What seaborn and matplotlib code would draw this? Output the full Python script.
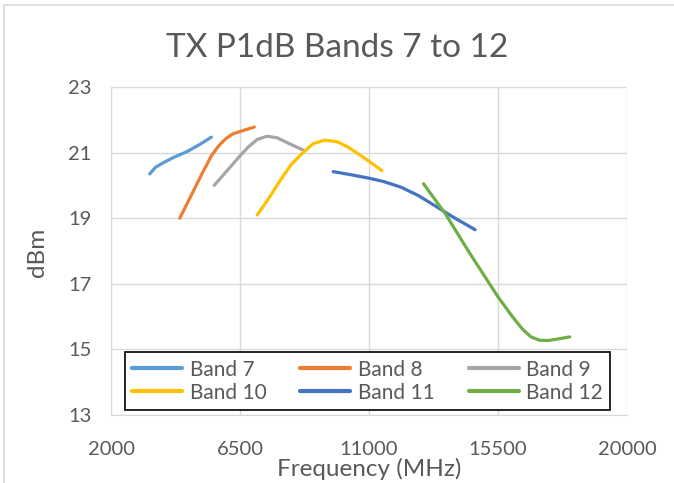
import pandas as pd
import matplotlib
matplotlib.use("Agg")
import matplotlib.pyplot as plt
import seaborn as sns
from matplotlib.patches import Rectangle

# values
band7_freq = [3350, 3550, 3800, 4200, 4650, 5100, 5500]
band7_dbm = [20.35, 20.55, 20.68, 20.86, 21.03, 21.25, 21.47]

band8_freq = [4400, 4800, 5200, 5500, 5750, 6000, 6250, 6600, 7000]
band8_dbm = [19.0, 19.7, 20.4, 20.9, 21.2, 21.42, 21.57, 21.67, 21.78]

band9_freq = [5600, 6000, 6500, 6800, 7100, 7450, 7800, 8200, 8700]
band9_dbm = [20.0, 20.4, 20.9, 21.18, 21.4, 21.5, 21.45, 21.28, 21.08]

band10_freq = [7100, 7500, 7900, 8300, 8700, 9050, 9450, 9900, 10300, 10900, 11450]
band10_dbm = [19.1, 19.6, 20.15, 20.65, 21.0, 21.27, 21.38, 21.33, 21.15, 20.8, 20.45]

band11_freq = [9750, 10400, 11000, 11500, 12100, 12700, 13300, 14000, 14700]
band11_dbm = [20.42, 20.32, 20.22, 20.12, 19.95, 19.7, 19.38, 19.0, 18.65]

band12_freq = [12900, 13650, 14500, 15500, 16000, 16350, 16650, 16950, 17250, 17600, 18000]
band12_dbm = [20.05, 19.15, 17.95, 16.6, 16.0, 15.62, 15.38, 15.28, 15.27, 15.32, 15.38]

bands = ["Band 7", "Band 8", "Band 9", "Band 10", "Band 11", "Band 12"]
colors = ["#5B9BD5", "#ED7D31", "#A5A5A5", "#FFC000", "#4472C4", "#70AD47"]

x_ticks = [2000, 6500, 11000, 15500, 20000]
y_ticks = [13, 15, 17, 19, 21, 23]

all_freq = [band7_freq, band8_freq, band9_freq, band10_freq, band11_freq, band12_freq]
all_dbm = [band7_dbm, band8_dbm, band9_dbm, band10_dbm, band11_dbm, band12_dbm]

frames = []
for name, f, d in zip(bands, all_freq, all_dbm):
    frames.append(pd.DataFrame({"freq": f, "dbm": d, "band": name}))
df = pd.concat(frames, ignore_index=True)

sns.set_style("white")
plt.rcParams["font.family"] = ["Lato", "DejaVu Sans"]

fig = plt.figure(figsize=(6.74, 4.83), dpi=100)
ax = fig.add_axes([0.1647, 0.1408, 0.7656, 0.6791])

sns.lineplot(data=df, x="freq", y="dbm", hue="band", hue_order=bands,
             palette=colors, sort=False, linewidth=2.3, ax=ax,
             estimator=None)
for ln in ax.lines:
    ln.set_solid_capstyle("round")
    ln.set_solid_joinstyle("round")

ax.set_xlim(2000, 20000)
ax.set_ylim(13, 23)
ax.set_xticks(x_ticks)
ax.set_yticks(y_ticks)
ax.tick_params(axis="both", length=0, labelsize=14.5, labelcolor="#595959")
ax.tick_params(axis="x", pad=19)
ax.tick_params(axis="y", pad=14)
ax.grid(True, color="#D9D9D9", linewidth=1)
for s in ax.spines.values():
    s.set_visible(False)
ax.spines["left"].set_visible(True)
ax.spines["bottom"].set_visible(True)
ax.spines["left"].set_color("#D9D9D9")
ax.spines["bottom"].set_color("#D9D9D9")

fig.text(337 / 674, 1 - 48 / 483, "TX P1dB Bands 7 to 12", fontsize=24,
         color="#595959", ha="center", va="center")
ax.set_xlabel("Frequency (MHz)", fontsize=17.5, color="#595959")
ax.set_ylabel("dBm", fontsize=17.5, color="#595959")
ax.xaxis.set_label_coords(0.5, -0.132)
ax.yaxis.set_label_coords(-0.122, 0.497)

# matplotlib fills legend columns first, so reorder to get row-wise order
handles, labels = ax.get_legend_handles_labels()
order = [0, 3, 1, 4, 2, 5]
leg = ax.legend([handles[i] for i in order], [labels[i] for i in order],
                loc="lower left", bbox_to_anchor=(0.027, 0.015, 0.94, 0.19),
                mode="expand", ncol=3, frameon=True, fancybox=False,
                fontsize=15, handlelength=2.4, borderaxespad=0,
                handletextpad=0.35, labelspacing=0.15, borderpad=0.35)
leg.get_frame().set_edgecolor("black")
leg.get_frame().set_linewidth(1.2)
leg.get_frame().set_alpha(1)
for t in leg.get_texts():
    t.set_color("#595959")
for h in leg.get_lines():
    h.set_linewidth(3)

fig.patches.append(Rectangle((0.006, -0.1), 1.2, 1.09, transform=fig.transFigure,
                             fill=False, edgecolor="#D9D9D9", linewidth=1.2))

fig.savefig("out.png", dpi=100)
